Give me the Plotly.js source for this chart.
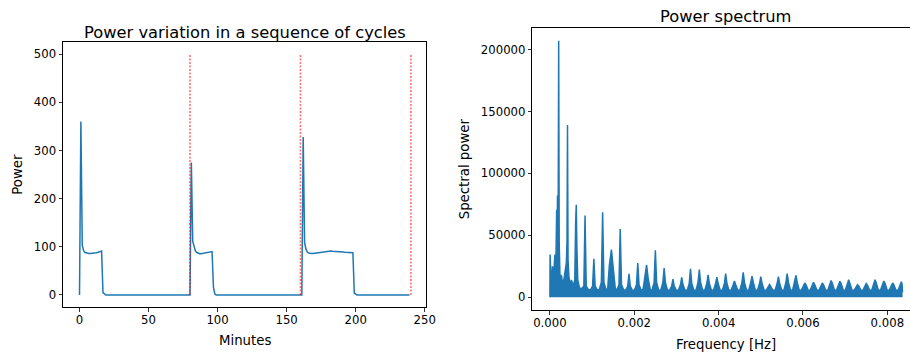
<!DOCTYPE html>
<html>
<head>
<meta charset="utf-8">
<script src="https://cdn.plot.ly/plotly-3.0.1.min.js"></script>
<style>html,body{margin:0;padding:0;background:#fff}#chart{width:910px;height:356px}</style>
</head>
<body>
<div id="chart"></div>
<script>
// ---- Left panel: power per minute (sampled at change points; flat stretches kept as endpoints)
const minutes = [
  0,1,2,3,4,5,6,7,8,9,10,11,12,13,14,15,16,17,18,19,
  80,81,82,83,84,85,86,87,88,89,90,91,92,93,94,95,96,97,98,99,
  160,161,162,163,164,165,166,167,168,169,170,171,172,173,174,175,176,177,178,
  179,180,181,182,183,184,185,186,187,188,189,190,191,192,193,194,195,196,197,198,199,200,201,
  239
];
const power = [
  0,360,103,92,88,87,86,86,86,86,86.5,87,87.5,88,89,90,91,5,2,0,
  0,275,111,98,91,88,86,85.5,85.5,86,86,87,88,88,89,89.5,90,16,2,0,
  0,0,328,109,95,89,87,86,86,86,86.5,87,87.5,88,88.5,89,89.5,90,90.5,
  91,91,91,91,90.5,90.5,90,90,89.5,89,89,89,89,88.5,88.5,88.5,88,88,88,87.5,4,2,0,
  0
];
const cycleStarts = [80, 160, 240];
const cycleLineTop = 500;

// ---- Right panel: power spectrum (frequency in Hz, spectral power)
const specFreq = [
  0, 0.000004, 0.00001, 0.00002, 0.00004, 0.00006, 0.00008, 0.0001, 0.00012, 0.00014,
  0.00016, 0.00017, 0.00018, 0.000195, 0.000208, 0.00022, 0.00024, 0.00027, 0.0003, 0.00033,
  0.00036, 0.00039, 0.000405, 0.000417, 0.00043, 0.00045, 0.00048, 0.00051, 0.00055, 0.00059,
  0.00061, 0.000625, 0.00064, 0.00066, 0.0007, 0.00076,
  0.000805, 0.000833, 0.000861, 0.000913,
  0.000962, 0.001012, 0.001042, 0.001072, 0.001122,
  0.00117, 0.00122, 0.00125, 0.00128, 0.00133,
  0.00137, 0.00141, 0.001458, 0.0015, 0.00155,
  0.001587, 0.001637, 0.001667, 0.001697, 0.001747,
  0.001795, 0.001845, 0.001875, 0.001905, 0.001955,
  0.002003, 0.002053, 0.002083, 0.002113, 0.002163,
  0.00221, 0.00225, 0.002292, 0.00233, 0.00238,
  0.00242, 0.00247, 0.0025, 0.00253, 0.00258,
  0.002628, 0.002678, 0.002708, 0.002738, 0.002788,
  0.002837, 0.002887, 0.002917, 0.002947, 0.002997,
  0.003045, 0.003095, 0.003125, 0.003155, 0.003205,
  0.003253, 0.003303, 0.003333, 0.003363, 0.003413,
  0.003462, 0.003512, 0.003542, 0.003572, 0.003622,
  0.00367, 0.00372, 0.00375, 0.00378, 0.00383,
  0.003878, 0.003928, 0.003958, 0.003988, 0.004038,
  0.004087, 0.004137, 0.004167, 0.004197, 0.004247,
  0.004295, 0.004345, 0.004375, 0.004405, 0.004455,
  0.004503, 0.004553, 0.004583, 0.004613, 0.004663,
  0.004712, 0.004762, 0.004792, 0.004822, 0.004872,
  0.00492, 0.00497, 0.005, 0.00503, 0.00508,
  0.005128, 0.005178, 0.005208, 0.005238, 0.005288,
  0.005337, 0.005387, 0.005417, 0.005447, 0.005497,
  0.005545, 0.005595, 0.005625, 0.005655, 0.005705,
  0.005753, 0.005803, 0.005833, 0.005863, 0.005913,
  0.005962, 0.006012, 0.006042, 0.006072, 0.006122,
  0.00617, 0.00622, 0.00625, 0.00628, 0.00633,
  0.006378, 0.006428, 0.006458, 0.006488, 0.006538,
  0.006587, 0.006637, 0.006667, 0.006697, 0.006747,
  0.006795, 0.006845, 0.006875, 0.006905, 0.006955,
  0.007003, 0.007053, 0.007083, 0.007113, 0.007163,
  0.007212, 0.007262, 0.007292, 0.007322, 0.007372,
  0.00742, 0.00747, 0.0075, 0.00753, 0.00758,
  0.007628, 0.007678, 0.007708, 0.007738, 0.007788,
  0.007837, 0.007887, 0.007917, 0.007947, 0.007997,
  0.008045, 0.008095, 0.008125, 0.008155, 0.008205,
  0.008253, 0.008303, 0.008333, 0.008348, 0.00836
];
const specPower = [
  0, 34400, 6000, 19700, 12000, 25000, 14000, 25000, 34400, 22000,
  70600, 45000, 82000, 50000, 207000, 45000, 14000, 18000, 12000, 14000,
  20000, 28000, 45000, 139000, 30000, 17000, 9000, 14000, 9000, 14000,
  60000, 74600, 40000, 14000, 7500, 7000,
  9000, 66000, 9000, 6000,
  6000, 9000, 31000, 9000, 6000,
  6000, 12000, 68500, 12000, 6000,
  7000, 26000, 38400, 24000, 7000,
  6000, 10000, 55000, 10000, 6000,
  5500, 9000, 18800, 9000, 5500,
  5500, 10000, 27500, 10000, 5500,
  6500, 16000, 26000, 15000, 6000,
  5500, 12000, 37800, 12000, 5500,
  5500, 12000, 23500, 12000, 5500,
  5500, 9000, 14500, 9000, 5500,
  5500, 10000, 16000, 10000, 5500,
  5500, 11000, 23000, 11000, 5500,
  5500, 12000, 22300, 12000, 5500,
  5500, 11000, 18000, 11000, 5500,
  5500, 11000, 16200, 11000, 5500,
  5500, 11000, 19000, 11000, 5500,
  5500, 10000, 13000, 10000, 5500,
  5500, 12000, 20000, 12000, 5500,
  5500, 12000, 17000, 12000, 5500,
  5500, 11000, 16500, 11000, 5500,
  5500, 8500, 10200, 8500, 5500,
  5500, 11000, 16500, 11000, 5500,
  5500, 12000, 19000, 12000, 5500,
  5500, 12000, 17500, 12000, 5500,
  5500, 10000, 11500, 10000, 5500,
  5500, 10000, 12000, 10000, 5500,
  5500, 10000, 11500, 10000, 5500,
  5500, 11000, 13500, 11000, 5500,
  5500, 11000, 12800, 11000, 5500,
  5500, 11000, 14000, 11000, 5500,
  5500, 9000, 10000, 9000, 5500,
  5500, 9500, 11000, 9500, 5500,
  5500, 11500, 14000, 11500, 5500,
  5500, 11000, 13000, 11000, 5500,
  5500, 10000, 11500, 10000, 5500,
  5500, 10500, 12500, 10500, 4000
];

const xTicks1 = [0, 50, 100, 150, 200, 250];
const yTicks1 = [0, 100, 200, 300, 400, 500];
const xTicks2 = [0, 0.002, 0.004, 0.006, 0.008];
const yTicks2 = [0, 50000, 100000, 150000, 200000];

const blue = '#1f77b4';
const FONT = 'DejaVu Sans, Liberation Sans, sans-serif';

const vx = [], vy = [];
cycleStarts.forEach(c => { vx.push(c, c, null); vy.push(0, cycleLineTop, null); });

const traces = [
  { x: minutes, y: power, type: 'scatter', mode: 'lines', xaxis: 'x', yaxis: 'y',
    line: { color: blue, width: 1.5 }, hoverinfo: 'skip' },
  { x: vx, y: vy, type: 'scatter', mode: 'lines', xaxis: 'x', yaxis: 'y',
    line: { color: 'rgba(255,0,0,0.55)', width: 1.6, dash: '2px,1.5px' }, hoverinfo: 'skip' },
  { x: specFreq, y: specPower, type: 'scatter', mode: 'lines', xaxis: 'x2', yaxis: 'y2',
    line: { color: blue, width: 1.5 }, fill: 'tozeroy', fillcolor: blue, hoverinfo: 'skip' }
];

const axisCommon = {
  showgrid: false, zeroline: false, showline: true, linecolor: '#000', linewidth: 1,
  ticks: 'outside', ticklen: 3.5, tickwidth: 0.8, tickcolor: '#000',
  tickfont: { family: FONT, size: 11.7, color: '#000' }
};

const layout = {
  width: 910, height: 356,
  margin: { l: 63, r: 0, t: 28, b: 46 },
  paper_bgcolor: '#fff', plot_bgcolor: '#fff',
  showlegend: false,
  font: { family: FONT, color: '#000' },
  xaxis: Object.assign({}, axisCommon, { domain: [0, 0.4286], range: [-11.95, 250.95],
    tickvals: xTicks1, ticktext: xTicks1.map(String), mirror: true, anchor: 'y', ticklabelstandoff: -2 }),
  yaxis: Object.assign({}, axisCommon, { domain: [0.0106, 0.9504], range: [-25, 525],
    tickvals: yTicks1, ticktext: yTicks1.map(String), mirror: true, anchor: 'x' }),
  xaxis2: Object.assign({}, axisCommon, { domain: [0.5541, 1], range: [-0.000417, 0.008537],
    tickvals: xTicks2, ticktext: xTicks2.map(v => v.toFixed(3)), mirror: true, anchor: 'y2', ticklabelstandoff: -2 }),
  yaxis2: Object.assign({}, axisCommon, { domain: [0, 1], range: [-10350, 217350],
    tickvals: yTicks2, ticktext: yTicks2.map(String), mirror: false, anchor: 'x2' }),
  annotations: [
    { text: 'Power variation in a sequence of cycles', xref: 'paper', yref: 'paper',
      x: 0.2145, y: 0.9848, xanchor: 'center', yanchor: 'middle', showarrow: false,
      font: { family: FONT, size: 16.3, color: '#000' } },
    { text: 'Power spectrum', xref: 'paper', yref: 'paper',
      x: 0.7825, y: 1.040, xanchor: 'center', yanchor: 'middle', showarrow: false,
      font: { family: FONT, size: 16.3, color: '#000' } },
    { text: 'Minutes', xref: 'paper', yref: 'paper',
      x: 0.2145, y: -0.1089, xanchor: 'center', yanchor: 'middle', showarrow: false,
      font: { family: FONT, size: 13.3, color: '#000' } },
    { text: 'Frequency [Hz]', xref: 'paper', yref: 'paper',
      x: 0.7830, y: -0.1241, xanchor: 'center', yanchor: 'middle', showarrow: false,
      font: { family: FONT, size: 13.3, color: '#000' } },
    { text: 'Power', xref: 'paper', yref: 'paper', textangle: -90,
      x: -0.0531, y: 0.4798, xanchor: 'center', yanchor: 'middle', showarrow: false,
      font: { family: FONT, size: 13.3, color: '#000' } },
    { text: 'Spectral power', xref: 'paper', yref: 'paper', textangle: -90,
      x: 0.4734, y: 0.5025, xanchor: 'center', yanchor: 'middle', showarrow: false,
      font: { family: FONT, size: 13.3, color: '#000' } }
  ]
};

Plotly.newPlot('chart', traces, layout, { staticPlot: true, displayModeBar: false });
</script>
</body>
</html>
